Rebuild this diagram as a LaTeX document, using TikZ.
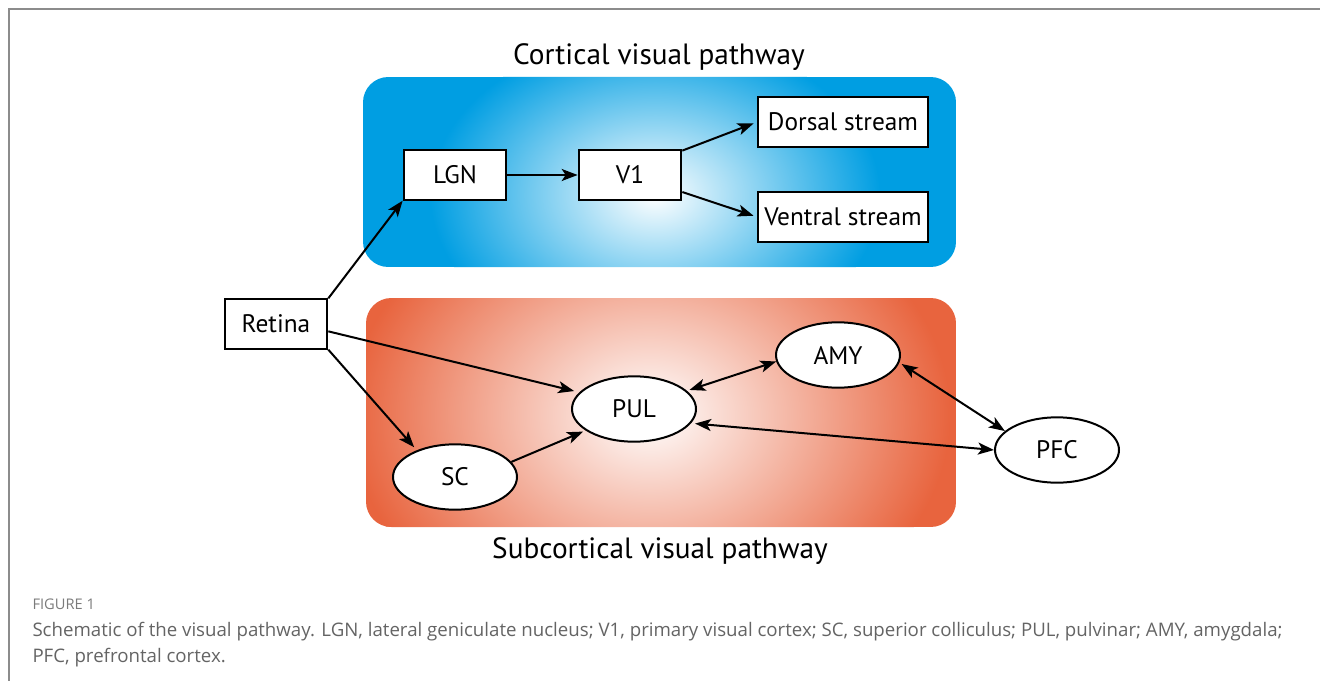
\documentclass[tikz,border=0pt]{standalone}
\usepackage{fontspec}
\setmainfont{PT Sans}
\newfontfamily\capfont{Open Sans}
\usetikzlibrary{arrows.meta,shapes.geometric}

\definecolor{cortexblue}{RGB}{0,158,226}
\definecolor{subred}{RGB}{232,100,62}
\definecolor{capgray}{RGB}{100,100,100}
\definecolor{framegray}{RGB}{140,140,140}

\tikzset{
areabox/.style={draw, fill=white, line width=1.5pt, minimum width=77pt, minimum height=37pt, inner sep=0pt, font=\fontsize{19}{21}\selectfont},
widebox/.style={areabox, minimum width=127pt},
nucleus/.style={ellipse, draw, fill=white, line width=1.5pt, minimum width=93pt, minimum height=49pt, inner sep=0pt, font=\fontsize{19}{21}\selectfont},
arr/.style={line width=1.5pt, -{Stealth[length=12pt,width=9pt,inset=3pt]}},
arrb/.style={line width=1.5pt, {Stealth[length=12pt,width=9pt,inset=3pt]}-{Stealth[length=12pt,width=9pt,inset=3pt]}},
pathtitle/.style={font=\fontsize{22}{25}\selectfont, inner sep=0pt}}
\tikzset{every picture/.style={line width=0.75pt}}

\begin{document}
\begin{tikzpicture}[x=0.75pt,y=0.75pt,yscale=-1,xscale=1]
\useasboundingbox (0,0) rectangle (1320,681);

%Shape: Frame
\draw [framegray, line width=1.5pt] (9,681) -- (9,9) -- (1320,9);

%Shape: Rounded Rect [cortical]
\begin{scope}
\clip [rounded corners=19pt] (363,77) rectangle (956,267);
\fill [cortexblue] (363,77) rectangle (956,267);
\shade [inner color=white, outer color=cortexblue] (655,195) ellipse [x radius=225, y radius=160];
\end{scope}
%Shape: Rounded Rect [subcortical]
\begin{scope}
\clip [rounded corners=19pt] (366,298) rectangle (956,527);
\fill [subred] (366,298) rectangle (956,527);
\shade [inner color=white, outer color=subred] (650,415) ellipse [x radius=300, y radius=235];
\end{scope}

% Text Node
\draw (659,57) node [pathtitle] (cortitle) {Cortical visual pathway};
% Text Node
\draw (660,551) node [pathtitle] (subtitle) {Subcortical visual pathway};

%Shape: Rectangle
\draw (276,324) node [areabox] (retina) {Retina};
\draw (455,175) node [areabox] (lgn) {LGN};
\draw (630,175) node [areabox] (v1) {V1};
\draw (843,122) node [widebox] (dorsal) {Dorsal stream};
\draw (843,217) node [widebox] (ventral) {Ventral stream};

%Shape: Ellipse
\draw (455,477) node [nucleus] (sc) {SC};
\draw (634,409) node [nucleus] (pul) {PUL};
\draw (838,355) node [nucleus] (amy) {AMY};
\draw (1057,450) node [nucleus] (pfc) {PFC};

% Connectors
\draw [arr] (retina.north east) -- (lgn.south west);
\draw [arr] (lgn.east) -- (v1.west);
\draw [arr, shorten >=3pt] (v1.25) -- (dorsal.west);
\draw [arr, shorten >=3pt] (v1.-18) -- (ventral.west);
\draw [arr, shorten >=4pt] (retina.-8) -- (pul.163);
\draw [arr, shorten >=3pt] (retina.south east) -- (sc.145);
\draw [arr, shorten >=2pt] (sc.15) -- (pul.204);
\draw [arrb, shorten <=2pt] (pul.19) -- (amy.186);
\draw [arrb, shorten <=3pt] (pul.-14) -- (pfc.180);
\draw [arrb, shorten <=2pt] (amy.-7) -- (pfc.160);

% Text Node
\draw (32,604) node [anchor=west, inner sep=0pt, text=capgray!85, font=\capfont\fontsize{11}{13}\selectfont] (fignum) {FIGURE 1};
% Text Node
\draw (32,622) node [anchor=north west, inner sep=0pt, align=left, text=capgray, font=\capfont\fontsize{14}{19.5}\selectfont] (caption) {Schematic of the visual pathway. LGN, lateral geniculate nucleus; V1, primary visual cortex; SC, superior colliculus; PUL, pulvinar; AMY, amygdala;\\ PFC, prefrontal cortex.};

\end{tikzpicture}
\end{document}
